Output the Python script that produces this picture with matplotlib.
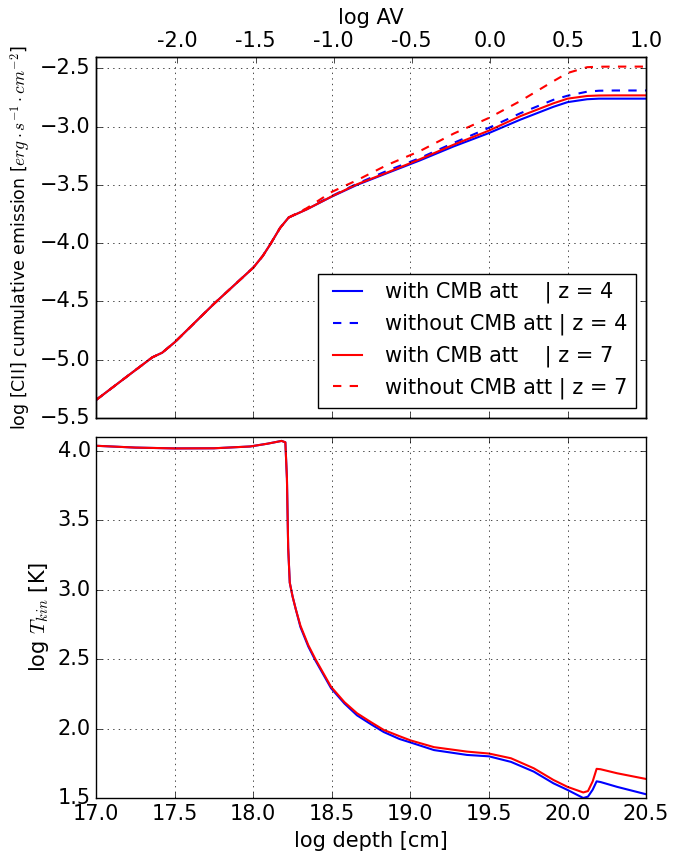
import numpy as np
import matplotlib
matplotlib.use("Agg")
import matplotlib.pyplot as plt

plt.style.use("classic")

# cumulative [CII] emission vs depth (log values)
depth_em = [17.0, 17.2, 17.357, 17.42, 17.5, 17.75, 18.0, 18.06, 18.108, 18.17,
            18.225, 18.34, 18.5, 18.66, 18.85, 19.06, 19.275, 19.5, 19.7, 19.91,
            20.0, 20.125, 20.2, 20.3, 20.5]
em_z4_att = [-5.345, -5.14, -4.98, -4.94, -4.85, -4.52, -4.21, -4.11, -4.01, -3.87,
             -3.78, -3.71, -3.60, -3.50, -3.40, -3.29, -3.17, -3.055, -2.94, -2.83,
             -2.79, -2.765, -2.76, -2.76, -2.76]
em_z4_noatt = [-5.345, -5.14, -4.98, -4.94, -4.85, -4.52, -4.21, -4.11, -4.01, -3.87,
               -3.78, -3.705, -3.595, -3.49, -3.38, -3.27, -3.14, -3.01, -2.885, -2.77,
               -2.735, -2.70, -2.692, -2.69, -2.69]
em_z7_att = [-5.345, -5.14, -4.98, -4.94, -4.85, -4.52, -4.21, -4.11, -4.01, -3.87,
             -3.78, -3.71, -3.598, -3.495, -3.395, -3.28, -3.155, -3.034, -2.91, -2.80,
             -2.76, -2.737, -2.733, -2.732, -2.732]
em_z7_noatt = [-5.345, -5.14, -4.98, -4.94, -4.85, -4.52, -4.21, -4.11, -4.01, -3.87,
               -3.78, -3.70, -3.56, -3.46, -3.33, -3.21, -3.06, -2.925, -2.78, -2.61,
               -2.54, -2.49, -2.486, -2.485, -2.485]

# kinetic temperature vs depth
depth_t = [17.0, 17.25, 17.5, 17.75, 17.98, 18.09, 18.18, 18.204, 18.214, 18.222,
           18.232, 18.25, 18.27, 18.30, 18.35, 18.395, 18.45, 18.495, 18.58, 18.66,
           18.75, 18.83, 18.93, 19.0, 19.15, 19.36, 19.5, 19.64, 19.785, 19.91,
           20.0, 20.1, 20.13, 20.16, 20.185, 20.21, 20.316, 20.5]
t_z4 = [4.035, 4.022, 4.016, 4.017, 4.03, 4.05, 4.07, 4.06, 3.80, 3.30,
        3.05, 2.95, 2.86, 2.73, 2.59, 2.49, 2.38, 2.29, 2.18, 2.095,
        2.03, 1.975, 1.925, 1.90, 1.845, 1.81, 1.80, 1.76, 1.69, 1.606,
        1.558, 1.50, 1.51, 1.56, 1.62, 1.615, 1.58, 1.527]
t_z7 = [4.035, 4.022, 4.016, 4.017, 4.03, 4.05, 4.07, 4.06, 3.80, 3.30,
        3.05, 2.95, 2.86, 2.74, 2.60, 2.50, 2.39, 2.30, 2.19, 2.11,
        2.045, 1.99, 1.945, 1.915, 1.866, 1.834, 1.82, 1.786, 1.714, 1.63,
        1.58, 1.54, 1.55, 1.62, 1.71, 1.707, 1.678, 1.637]

av_ticks = [-2.0, -1.5, -1.0, -0.5, 0.0, 0.5, 1.0]

fig, (ax1, ax2) = plt.subplots(2, 1, sharex=True, figsize=(6.97, 8.59), dpi=100)
fig.subplots_adjust(left=0.138, right=0.927, top=0.934, bottom=0.071, hspace=0.052)

ax1.plot(depth_em, em_z4_att, color='b', lw=1.5, label='with CMB att    | z = 4')
ax1.plot(depth_em, em_z4_noatt, color='b', lw=1.5, ls='--', label='without CMB att | z = 4')
ax1.plot(depth_em, em_z7_att, color='r', lw=1.5, label='with CMB att    | z = 7')
ax1.plot(depth_em, em_z7_noatt, color='r', lw=1.5, ls='--', label='without CMB att | z = 7')
ax1.set_ylim(-5.5, -2.4)
ax1.set_yticks(np.arange(-5.5, -2.4, 0.5))
ax1.set_ylabel(r'log [CII] cumulative emission [$erg\cdot s^{-1}\cdot cm^{-2}$]', fontsize=12.5)
ax1.grid(True)
ax1.legend(loc='lower right', fontsize=15)
ax1.tick_params(axis='both', which='major', labelsize=15)

# top axis in log AV
ax_av = ax1.twiny()
ax_av.set_xlim(-2.52, 1.0)
ax_av.set_xticks(av_ticks)
ax_av.set_xticklabels([str(t) for t in av_ticks])
ax_av.set_xlabel('log AV', fontsize=15)
ax_av.tick_params(axis='both', which='major', labelsize=15)

ax2.plot(depth_t, t_z4, color='b', lw=1.5)
ax2.plot(depth_t, t_z7, color='r', lw=1.5)
ax2.set_xlim(17.0, 20.5)
ax2.set_ylim(1.5, 4.1)
ax2.set_yticks(np.arange(1.5, 4.1, 0.5))
ax2.set_xlabel('log depth [cm]', fontsize=15)
ax2.set_ylabel(r'log $T_{kin}$ [K]', fontsize=15)
ax2.grid(True)
ax2.tick_params(axis='both', which='major', labelsize=15)

fig.savefig('out.png', dpi=100)
